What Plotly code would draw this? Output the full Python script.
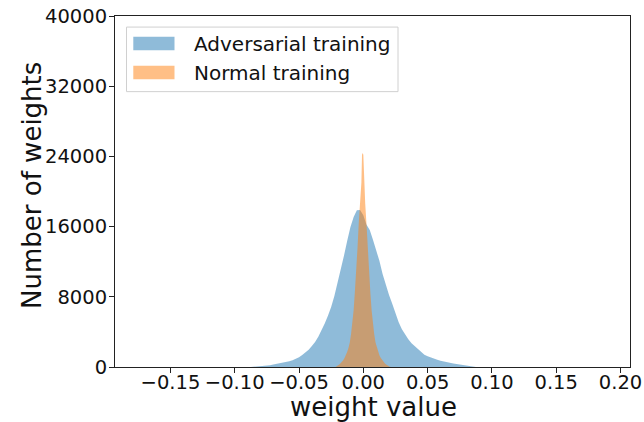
import plotly.graph_objects as go

# ---- data (counts in thousands) ----
adv_x = [-0.0875, -0.085, -0.0825, -0.080, -0.0775, -0.075, -0.0725, -0.070, -0.0675, -0.065,
         -0.0625, -0.060, -0.0575, -0.055, -0.0525, -0.050, -0.0475, -0.045, -0.0425, -0.040,
         -0.0375, -0.035, -0.0325, -0.030, -0.0275, -0.025, -0.0225, -0.020, -0.0175, -0.015,
         -0.0125, -0.010, -0.0075, -0.005, -0.0025, 0.000, 0.0025, 0.005, 0.0075, 0.010,
         0.0125, 0.015, 0.0175, 0.020, 0.0225, 0.025, 0.0275, 0.030, 0.0325, 0.035,
         0.0375, 0.040, 0.0425, 0.045, 0.0475, 0.050, 0.0525, 0.055, 0.0575, 0.060,
         0.0625, 0.065, 0.0675, 0.070, 0.0725, 0.075, 0.0775, 0.080, 0.0825, 0.085, 0.0875]
adv_k = [0.0, 0.02, 0.04, 0.06, 0.09, 0.13, 0.19, 0.28, 0.34, 0.41,
         0.49, 0.58, 0.66, 0.78, 0.92, 1.10, 1.36, 1.65, 1.98, 2.40,
         2.85, 3.45, 4.15, 4.95, 5.85, 6.85, 8.10, 9.55, 11.1, 12.7,
         14.4, 15.95, 17.1, 17.85, 17.9, 17.3, 16.2, 15.6, 14.5, 13.4,
         12.1, 10.6, 9.35, 8.2, 7.2, 6.05, 5.1, 4.3, 3.65, 3.15,
         2.7, 2.35, 2.0, 1.7, 1.40, 1.22, 1.07, 0.95, 0.82, 0.72,
         0.62, 0.54, 0.46, 0.40, 0.34, 0.29, 0.26, 0.18, 0.11, 0.05, 0.0]

norm_x = [-0.0215, -0.0205, -0.0195, -0.0185, -0.0175, -0.0165, -0.0155, -0.0145, -0.0135, -0.0125,
          -0.0115, -0.0105, -0.0095, -0.0085, -0.0075, -0.0065, -0.0055, -0.0045, -0.0035, -0.0025,
          -0.0015, -0.0010, -0.0005, 0.0000, 0.0005, 0.0015, 0.0025, 0.0035, 0.0045, 0.0055,
          0.0065, 0.0075, 0.0085, 0.0095, 0.0105, 0.0115, 0.0125, 0.0135, 0.0145, 0.0155,
          0.0165, 0.0175, 0.0185, 0.0195, 0.0205, 0.0215]
norm_k = [0.0, 0.08, 0.18, 0.30, 0.45, 0.60, 0.80, 1.05, 1.35, 1.75,
          2.2, 2.8, 3.8, 5.0, 6.5, 8.7, 10.8, 13.6, 16.5, 18.8,
          21.0, 24.2, 24.4, 24.2, 21.5, 18.6, 16.2, 13.0, 10.4, 8.4,
          6.4, 4.9, 3.7, 2.8, 2.2, 1.7, 1.35, 1.05, 0.8, 0.6,
          0.45, 0.32, 0.2, 0.1, 0.04, 0.0]

adv_counts = [v * 1000 for v in adv_k]
norm_counts = [v * 1000 for v in norm_k]

x_ticks = [-0.15, -0.10, -0.05, 0.00, 0.05, 0.10, 0.15, 0.20]
x_tick_labels = ["\u22120.15", "\u22120.10", "\u22120.05", "0.00", "0.05", "0.10", "0.15", "0.20"]
y_ticks = [0, 8000, 16000, 24000, 32000, 40000]
y_tick_labels = ["0", "8000", "16000", "24000", "32000", "40000"]
series_names = ["Adversarial training", "Normal training"]

FONT = "DejaVu Sans"
BLUE = "rgba(31,119,180,0.5)"
ORANGE = "rgba(255,127,14,0.5)"

# plot area in window pixels
PX0, PX1, PY0, PY1 = 115, 630, 15.7, 367.5
W, H = 644, 422


def px(x):
    return (x - PX0) / (PX1 - PX0)


def py(y):
    return (PY1 - y) / (PY1 - PY0)


fig = go.Figure()
fig.add_trace(go.Scatter(x=adv_x, y=adv_counts, mode="lines",
                         line=dict(width=0, color=BLUE),
                         fill="tozeroy", fillcolor=BLUE, name=series_names[0],
                         showlegend=False))
fig.add_trace(go.Scatter(x=norm_x, y=norm_counts, mode="lines",
                         line=dict(width=0, color=ORANGE),
                         fill="tozeroy", fillcolor=ORANGE, name=series_names[1],
                         showlegend=False))

axis_common = dict(showline=True, linecolor="#222", linewidth=1, mirror=True,
                   ticks="outside", ticklen=5, tickcolor="#222", showgrid=False,
                   zeroline=False, automargin=False, ticklabeloverflow="allow",
                   tickfont=dict(family=FONT, size=19.5, color="#111"))

shapes = [
    # legend frame
    dict(type="rect", xref="paper", yref="paper", x0=px(126.5), x1=px(398), y0=py(91.5), y1=py(26.8),
         line=dict(color="#d0d0d0", width=1), fillcolor="rgba(255,255,255,0.8)", layer="above"),
    dict(type="rect", xref="paper", yref="paper", x0=px(133.3), x1=px(174.5), y0=py(50), y1=py(36.5),
         line=dict(width=0), fillcolor=BLUE, layer="above"),
    dict(type="rect", xref="paper", yref="paper", x0=px(133.3), x1=px(174.5), y0=py(79), y1=py(65.5),
         line=dict(width=0), fillcolor=ORANGE, layer="above"),
]

annotations = [
    dict(text=series_names[0], xref="paper", yref="paper", x=px(191.5), y=py(43.5),
         xanchor="left", yanchor="middle", showarrow=False,
         font=dict(family=FONT, size=20, color="#111")),
    dict(text=series_names[1], xref="paper", yref="paper", x=px(191.5), y=py(72.5),
         xanchor="left", yanchor="middle", showarrow=False,
         font=dict(family=FONT, size=20, color="#111")),
    dict(text="weight value", xref="paper", yref="paper", x=px(373.5), y=py(391),
         xanchor="center", yanchor="top", showarrow=False,
         font=dict(family=FONT, size=26, color="#111")),
    dict(text="Number of weights", xref="paper", yref="paper", x=px(32), y=py(186),
         xanchor="center", yanchor="middle", textangle=-90, showarrow=False,
         font=dict(family=FONT, size=26, color="#111")),
]

fig.update_layout(
    width=W, height=H,
    margin=dict(l=PX0, r=W - PX1, t=PY0, b=H - PY1),
    plot_bgcolor="white", paper_bgcolor="white",
    font=dict(family=FONT, color="#111"),
    xaxis=dict(range=[-0.1931, 0.2074], tickvals=x_ticks, ticktext=x_tick_labels,
               ticklabelstandoff=-7, **axis_common),
    yaxis=dict(range=[0, 40000], tickvals=y_ticks, ticktext=y_tick_labels,
               ticklabelstandoff=-2, **axis_common),
    shapes=shapes,
    annotations=annotations,
    showlegend=False,
)

# remove the browser's default 8px page margin so the figure fills the window exactly
fig.write_html("out.html", config={"displayModeBar": False},
               post_script="document.body.style.margin='0';")
